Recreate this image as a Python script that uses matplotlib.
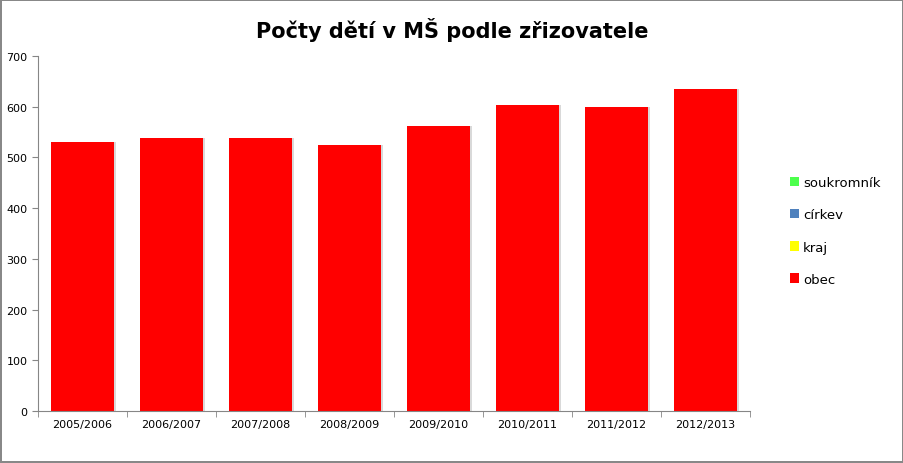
import matplotlib.pyplot as plt
import numpy as np

# data
roky = ["2005/2006", "2006/2007", "2007/2008", "2008/2009",
        "2009/2010", "2010/2011", "2011/2012", "2012/2013"]
obec = [531, 538, 538, 525, 562, 604, 600, 635]
kraj = [0, 0, 0, 0, 0, 0, 0, 0]
cirkev = [0, 0, 0, 0, 0, 0, 0, 0]
soukromnik = [0, 0, 0, 0, 0, 0, 0, 0]

fig = plt.figure(figsize=(9.04, 4.64), dpi=100)
fig.patch.set_edgecolor("#888888")
fig.patch.set_linewidth(1.5)
ax = fig.add_axes([38 / 904, 52 / 464, 712 / 904, 355 / 464])

x = np.arange(len(roky))
w = 0.7
# lehky stin vpravo
ax.bar(x + 0.03, obec, w, color="#d9d9d9", zorder=1)
b1 = ax.bar(x, obec, w, color="#ff0000", label="obec", zorder=2)
b2 = ax.bar(x, kraj, w, bottom=obec, color="#ffff00", label="kraj", zorder=2)
base = np.array(obec) + np.array(kraj)
b3 = ax.bar(x, cirkev, w, bottom=base, color="#4f81bd", label="církev", zorder=2)
base = base + np.array(cirkev)
b4 = ax.bar(x, soukromnik, w, bottom=base, color="#4cff4c", label="soukromník", zorder=2)

ax.set_xlim(-0.5, len(roky) - 0.5)
ax.set_ylim(0, 700)
ax.set_yticks(range(0, 701, 100))
ax.set_xticks(x)
ax.set_xticklabels(roky, fontsize=8)
ax.set_xticks(np.arange(-0.5, len(roky), 1), minor=True)
ax.tick_params(axis="x", which="major", length=0, pad=6)
ax.tick_params(axis="x", which="minor", length=4, color="#868686")
ax.tick_params(axis="y", labelsize=8, length=4, color="#868686")
for s in ["top", "right"]:
    ax.spines[s].set_visible(False)
for s in ["left", "bottom"]:
    ax.spines[s].set_color("#868686")

fig.text(0.5, 0.935, "Počty dětí v MŠ podle zřizovatele", ha="center", va="center",
         fontsize=15, fontweight="bold")

fig.legend([b4, b3, b2, b1], ["soukromník", "církev", "kraj", "obec"],
           loc="center left", bbox_to_anchor=(778 / 904, 0.5), frameon=False,
           fontsize=9.5, handlelength=0.7, handleheight=0.7, labelspacing=1.45,
           handletextpad=0.3)

fig.savefig("out.png", dpi=100, edgecolor=fig.get_edgecolor())
